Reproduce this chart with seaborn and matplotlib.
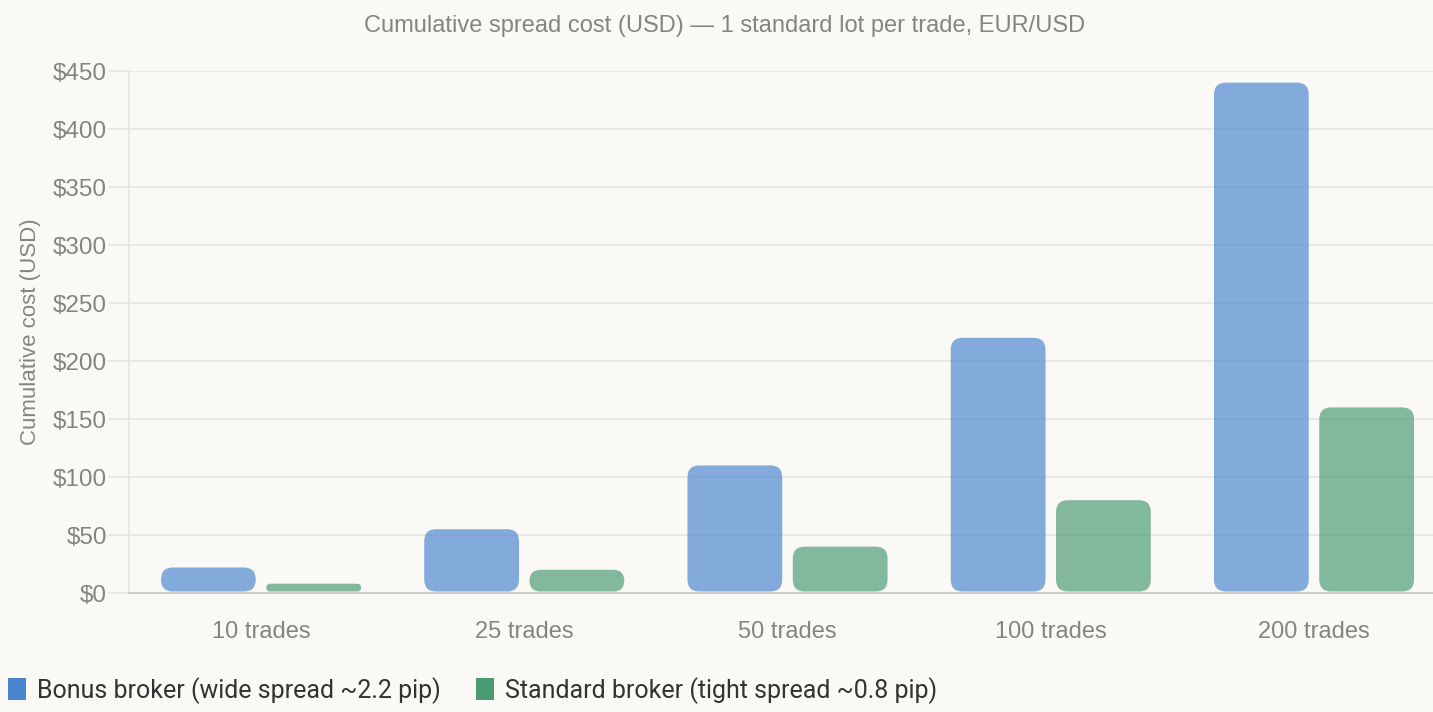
import pandas as pd
import matplotlib.pyplot as plt
import seaborn as sns
from matplotlib.patches import FancyBboxPatch, Patch

# --- chart data ---
categories = ["10 trades", "25 trades", "50 trades", "100 trades", "200 trades"]
bonus_cost = [22, 55, 110, 220, 440]
standard_cost = [8, 20, 40, 80, 160]
series_names = ["Bonus broker (wide spread ~2.2 pip)", "Standard broker (tight spread ~0.8 pip)"]
y_ticks = [0, 50, 100, 150, 200, 250, 300, 350, 400, 450]

df = pd.DataFrame({
    "trades": categories * 2,
    "cost": bonus_cost + standard_cost,
    "broker": [series_names[0]] * 5 + [series_names[1]] * 5,
})

bg = "#faf9f6"
grid_c = "#e7e5e1"
text_c = "#858480"
colors = ["#4a86d0", "#4a9a72"]

sns.set_theme(style="white")
plt.rcParams["font.family"] = ["Liberation Sans", "DejaVu Sans"]

fig = plt.figure(figsize=(14.33, 7.12), dpi=100, facecolor=bg)
ax = fig.add_axes([129.4 / 1433, 119 / 712, (1433 - 129.4) / 1433, 522 / 712])
ax.set_facecolor(bg)

sns.barplot(data=df, x="trades", y="cost", hue="broker", palette=colors,
            width=0.8, gap=0.1, ax=ax, legend=False, saturation=1)

ax.set_xlim(-0.5, 4.452)
ax.set_ylim(0, 450)
ax.set_yticks(y_ticks)
ax.set_yticklabels([f"${v}" for v in y_ticks])

# rounded bars (replace rectangles)
fig.canvas.draw()
px_x = ax.bbox.width / (ax.get_xlim()[1] - ax.get_xlim()[0])
px_y = ax.bbox.height / (ax.get_ylim()[1] - ax.get_ylim()[0])
aspect = px_x / px_y
radius_px = 12
for bar in list(ax.patches):
    x0, y0 = bar.get_x(), bar.get_y()
    w, h = bar.get_width(), bar.get_height()
    fc = bar.get_facecolor()
    bar.remove()
    gap_y = 1.5 / px_y
    h2 = h - gap_y
    r = min(radius_px, h2 * px_y / 2) / px_x
    fb = FancyBboxPatch((x0, y0 + gap_y), w, h2,
                        boxstyle=f"round,pad=0,rounding_size={r}",
                        mutation_aspect=aspect, facecolor=fc, alpha=0.68,
                        edgecolor="none", zorder=3)
    ax.add_patch(fb)

ax.grid(axis="y", color=grid_c, linewidth=1.2, zorder=0)
ax.grid(axis="x", visible=False)
for s in ["top", "right"]:
    ax.spines[s].set_visible(False)
ax.spines["left"].set_color(grid_c)
ax.spines["left"].set_linewidth(1.2)
ax.spines["bottom"].set_color("#cfcdc8")
ax.spines["bottom"].set_linewidth(1.5)
ax.tick_params(axis="y", length=15, width=1.2, color=grid_c, labelsize=17.5,
               labelcolor=text_c, pad=1, left=True)
ax.tick_params(axis="x", length=0, labelsize=17, labelcolor=text_c, pad=20)

ax.set_xlabel("")
ax.set_ylabel("Cumulative cost (USD)", fontsize=16, color=text_c)
ax.yaxis.set_label_coords(-88 / ax.bbox.width, 0.5, transform=ax.transAxes)

fig.text(725 / 1433, 1 - 26 / 712, "Cumulative spread cost (USD) — 1 standard lot per trade, EUR/USD",
         ha="center", va="center", fontsize=17, color=text_c)

handles = [Patch(facecolor=c, edgecolor="none") for c in colors]
fig.legend(handles, series_names, loc="lower left", bbox_to_anchor=(-0.0098, -0.02),
           ncol=2, frameon=False, handlelength=0.72, handleheight=1.0,
           handletextpad=0.44, columnspacing=1.4,
           prop={"family": "Roboto", "size": 18}, labelcolor="#333333")

plt.savefig("out.png", dpi=100, facecolor=bg)
